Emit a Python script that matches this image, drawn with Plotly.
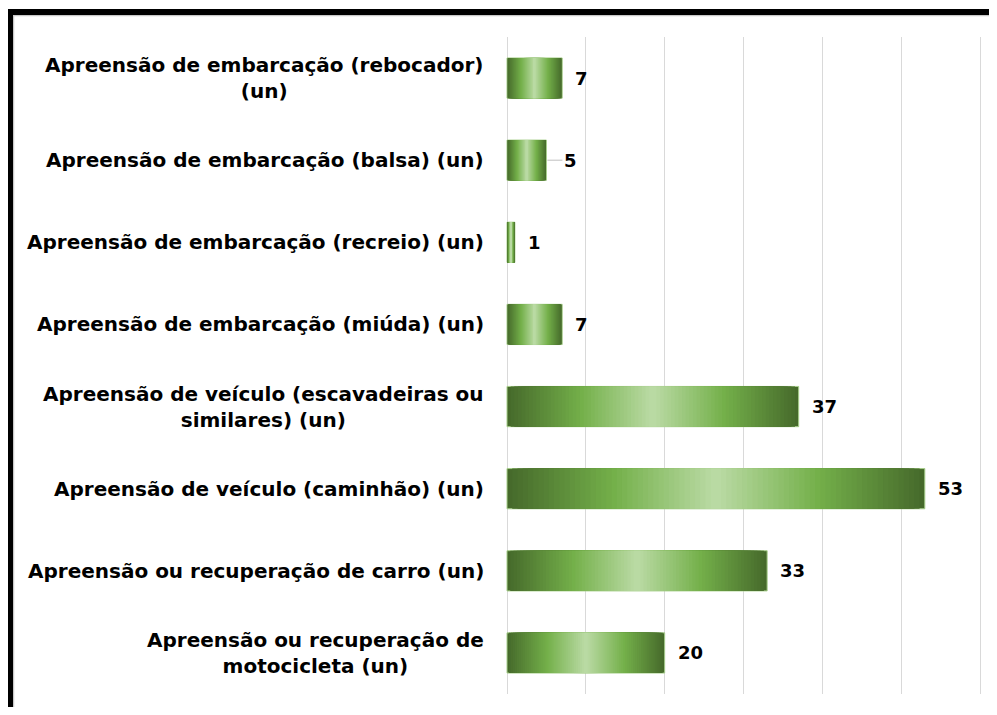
import plotly.graph_objects as go

categories = [
    "Apreensão de embarcação (rebocador)<br>(un)",
    "Apreensão de embarcação (balsa) (un)",
    "Apreensão de embarcação (recreio) (un)",
    "Apreensão de embarcação (miúda) (un)",
    "Apreensão de veículo (escavadeiras ou<br>similares) (un)",
    "Apreensão de veículo (caminhão) (un)",
    "Apreensão ou recuperação de carro (un)",
    "Apreensão ou recuperação de<br>motocicleta (un)",
]
values = [7, 5, 1, 7, 37, 53, 33, 20]
x_max = 60

OFF = 8  # default page body margin
W, H = 997 - 2 * OFF, 715 - 2 * OFF
X0PX, XMAXPX = 507, 980          # page pixels of value 0 and x_max
PL, PR, PT, PB = 503, 989, 37, 694  # plot area in page pixels
UNIT = (XMAXPX - X0PX) / x_max
XR = [-(X0PX - PL) / UNIT, x_max + (PR - XMAXPX) / UNIT]
ML, MR, MT, MB = PL - OFF, W - (PR - OFF), PT - OFF, H - (PB - OFF)
PW, PH = W - ML - MR, H - MT - MB


def px_x(p):
    return (p - OFF - ML) / PW


def px_y(p):
    return (H - MB - (p - OFF)) / PH


def hex2rgb(h):
    h = h.lstrip("#")
    return [int(h[i:i + 2], 16) for i in (0, 2, 4)]


def lerp(c1, c2, t):
    a, b = hex2rgb(c1), hex2rgb(c2)
    return "rgb(%d,%d,%d)" % tuple(round(a[i] + (b[i] - a[i]) * t) for i in range(3))


DARK, MID, LIGHT = "#466a2b", "#74b04a", "#bddca8"


def grad_color(d):
    if d >= 0.25:
        return lerp(MID, DARK, (d - 0.25) / 0.25)
    return lerp(LIGHT, MID, d / 0.25)


fig = go.Figure()
N = 40
for k in range(N):
    f = 1.0 - k / N
    xs = [v * f for v in values]
    bases = [v * (1 - f) / 2 for v in values]
    fig.add_trace(go.Bar(
        y=categories, x=xs, base=bases, orientation="h",
        width=0.49,
        marker=dict(color=grad_color(f / 2),
                    line=dict(width=1 if k == 0 else 0, color="#a8cf8c")),
        hoverinfo="skip", showlegend=False,
    ))

LBL = dict(family="DejaVu Sans", size=20, color="black", weight="bold")
VAL = dict(family="DejaVu Sans", size=18, color="black", weight="bold")
annotations = []
for c, v in zip(categories, values):
    annotations.append(dict(
        x=0, xref="x", y=c, yref="y", xanchor="right", yanchor="middle",
        xshift=-21, text=c, showarrow=False, align="center", font=LBL,
    ))
    if v == 5:
        annotations.append(dict(
            x=v, y=c, xref="x", yref="y", text=str(v), showarrow=True,
            arrowhead=0, arrowwidth=1, arrowcolor="#bfbfbf", ax=16, ay=0,
            xanchor="left", standoff=1, font=VAL,
        ))
    else:
        annotations.append(dict(
            x=v, y=c, xref="x", yref="y", text=str(v), showarrow=False,
            xanchor="left", yanchor="middle", xshift=11, font=VAL,
        ))

shapes = [
    dict(type="line", xref="paper", yref="paper", x0=px_x(10), x1=px_x(1010),
         y0=px_y(15.5), y1=px_y(15.5), line=dict(color="#c8c8c8", width=1.5)),
    dict(type="line", xref="paper", yref="paper", x0=px_x(13.5), x1=px_x(13.5),
         y0=px_y(12), y1=px_y(730), line=dict(color="#c8c8c8", width=1.5)),
    dict(type="line", xref="paper", yref="paper", x0=px_x(7), x1=px_x(1010),
         y0=px_y(12), y1=px_y(12), line=dict(color="black", width=6)),
    dict(type="line", xref="paper", yref="paper", x0=px_x(10), x1=px_x(10),
         y0=px_y(9), y1=px_y(730), line=dict(color="black", width=6)),
]

fig.update_layout(
    width=W, height=H, barmode="overlay", bargap=0.5,
    margin=dict(l=ML, r=MR, t=MT, b=MB, pad=0),
    paper_bgcolor="white", plot_bgcolor="white",
    xaxis=dict(range=XR, tickmode="array", tickvals=list(range(0, x_max + 1, 10)),
               showgrid=True, gridcolor="#d9d9d9", gridwidth=1,
               showticklabels=False, zeroline=False, showline=False,
               fixedrange=True),
    yaxis=dict(categoryorder="array", categoryarray=categories[::-1],
               showticklabels=False, showgrid=False, zeroline=False,
               range=[-0.5, len(categories) - 0.5]),
    annotations=annotations, shapes=shapes,
)

fig.write_html("out.html")
